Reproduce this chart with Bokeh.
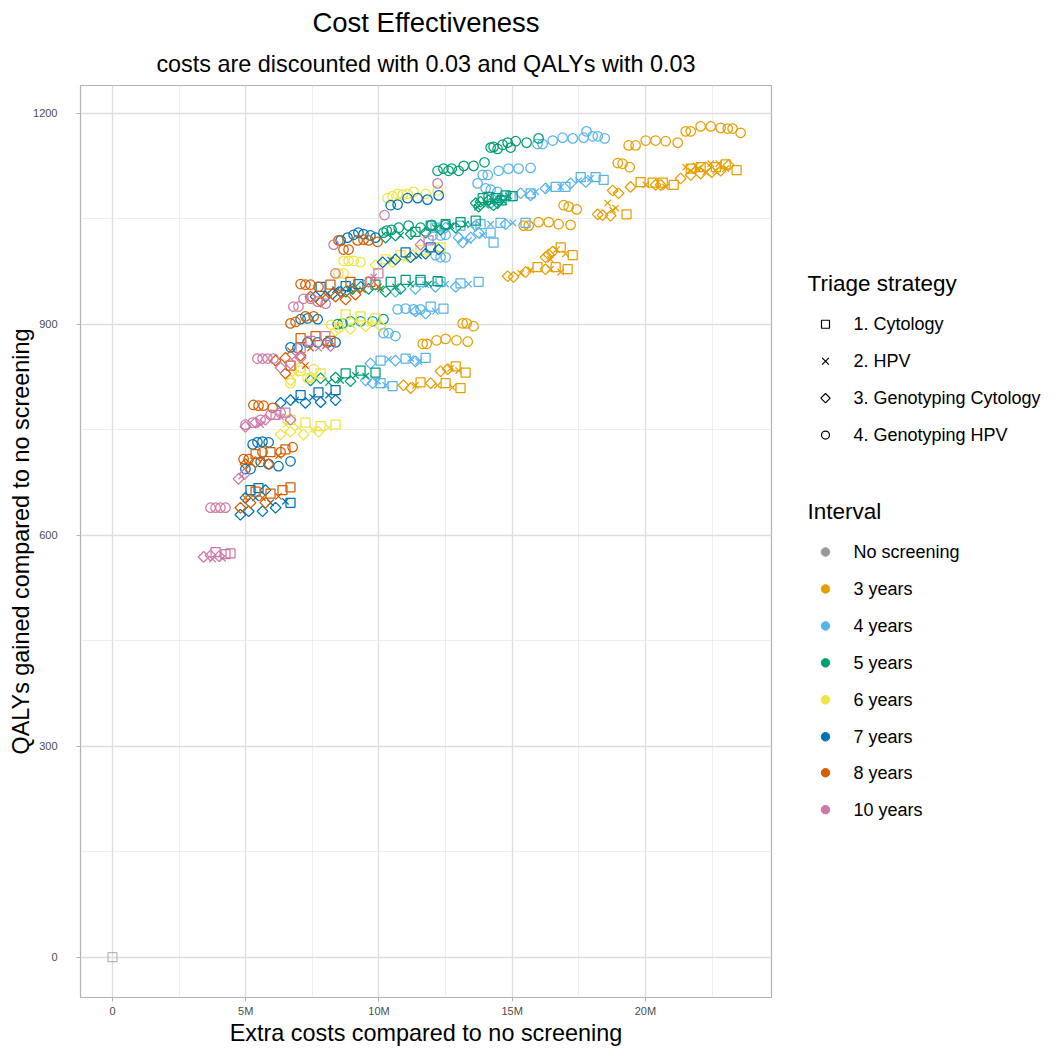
import numpy as np
import pandas as pd
from bokeh.plotting import figure
from bokeh.models import Range1d, FixedTicker, Title, ColumnDataSource
from bokeh.layouts import row
from bokeh.embed import file_html
from bokeh.resources import INLINE
from bokeh.core.properties import value

FONT = "Liberation Sans"

interval_labels = ["No screening", "3 years", "4 years", "5 years", "6 years",
                   "7 years", "8 years", "10 years"]
interval_colors = ["#999999", "#E69F00", "#56B4E9", "#009E73", "#F0E442",
                   "#0072B2", "#D55E00", "#CC79A7"]
triage_labels = ["1. Cytology", "2. HPV", "3. Genotyping Cytology", "4. Genotyping HPV"]

x_ticks = [0, 5, 10, 15, 20]
x_tick_labels = ["0", "5M", "10M", "15M", "20M"]
y_ticks = [0, 300, 600, 900, 1200]

# (extra cost in millions, QALYs gained, triage strategy 1-4)
pts_none = [(0.0, 0.0, 1)]

pts_3y = [
    (21.51, 1174, 4), (21.70, 1174, 4), (22.07, 1181, 4), (22.45, 1181, 4), (22.82, 1179, 4),
    (23.09, 1178, 4), (23.27, 1178, 4), (23.57, 1172, 4),
    (19.37, 1154, 4), (19.63, 1154, 4), (20.01, 1161, 4), (20.38, 1161, 4), (20.76, 1160, 4), (21.21, 1158, 4),
    (18.96, 1129, 4), (19.14, 1128, 4), (19.41, 1123, 4),
    (16.93, 1069, 4), (17.12, 1067, 4), (17.42, 1063, 4),
    (15.43, 1040, 4), (15.62, 1040, 4), (15.99, 1045, 4), (16.37, 1045, 4), (16.74, 1042, 4), (17.19, 1041, 4),
    (13.14, 901, 4), (13.29, 901, 4), (13.55, 897, 4),
    (11.64, 872, 4), (11.79, 872, 4), (12.16, 877, 4), (12.50, 879, 4), (12.91, 877, 4), (13.33, 875, 4),
    (19.29, 1056, 1), (19.82, 1102, 1), (20.27, 1101, 1), (20.65, 1101, 1), (21.06, 1098, 1), (22.07, 1123, 1),
    (22.64, 1123, 1), (23.42, 1119, 1), (21.70, 1121, 1), (23.01, 1127, 1),
    (16.82, 1009, 1), (17.27, 998, 1), (15.95, 981, 1), (16.63, 981, 1), (17.08, 978, 1),
    (13.25, 831, 1), (12.88, 840, 1), (11.56, 817, 1), (12.50, 816, 1), (13.06, 809, 1),
    (18.88, 1065, 2), (20.01, 1098, 2), (20.76, 1095, 2), (21.70, 1118, 2), (22.45, 1128, 2), (23.01, 1121, 2),
    (22.26, 1116, 2), (21.51, 1123, 2), (22.75, 1128, 2), (18.58, 1072, 2), (18.77, 1062, 2), (21.96, 1121, 2),
    (21.89, 1125, 2), (22.64, 1118, 2),
    (16.67, 1006, 2), (17.00, 1000, 2), (16.44, 992, 2), (15.32, 972, 2), (15.69, 977, 2), (16.44, 978, 2), (16.82, 974, 2),
    (12.69, 837, 2), (12.99, 834, 2), (11.37, 813, 2), (12.20, 813, 2), (12.76, 810, 2),
    (18.21, 1056, 3), (18.39, 1055, 3), (18.69, 1054, 3), (18.77, 1090, 3), (18.99, 1086, 3), (19.44, 1095, 3),
    (20.38, 1098, 3), (21.32, 1107, 3), (22.07, 1114, 3), (22.82, 1118, 3), (21.70, 1112, 3), (22.49, 1116, 3),
    (20.57, 1098, 3), (22.26, 1123, 3), (23.12, 1126, 3),
    (16.25, 995, 3), (16.37, 999, 3), (16.52, 1003, 3), (14.83, 968, 3), (15.05, 967, 3), (15.50, 974, 3), (16.25, 978, 3),
    (12.31, 833, 3), (12.58, 836, 3), (10.92, 813, 3), (11.19, 809, 3), (11.94, 816, 3),
]

pts_4y = [
    (15.95, 1156, 4), (16.14, 1156, 4), (16.52, 1161, 4), (16.89, 1165, 4), (17.27, 1164, 4), (17.68, 1165, 4),
    (17.79, 1174, 4), (18.02, 1167, 4), (18.21, 1167, 4), (18.47, 1164, 4),
    (13.70, 1100, 4), (13.89, 1112, 4), (14.08, 1112, 4), (14.49, 1118, 4), (14.86, 1121, 4), (15.24, 1121, 4),
    (15.69, 1122, 4), (14.00, 1093, 4), (14.19, 1091, 4), (14.45, 1088, 4),
    (12.01, 1026, 4), (12.31, 1026, 4), (12.50, 1027, 4), (12.12, 998, 4), (12.31, 995, 4), (12.50, 995, 4),
    (10.70, 921, 4), (11.00, 922, 4), (11.30, 921, 4), (11.56, 921, 4), (10.17, 887, 4), (10.36, 887, 4), (10.62, 883, 4),
    (14.94, 1082, 1), (15.69, 1086, 1), (16.63, 1095, 1), (17.57, 1109, 1), (18.13, 1109, 1), (18.43, 1105, 1),
    (17.00, 1095, 1),
    (12.12, 1037, 1), (13.06, 1040, 1), (13.81, 1042, 1), (14.56, 1044, 1), (15.50, 1044, 1), (14.19, 1030, 1), (14.30, 1016, 1),
    (11.56, 960, 1), (12.31, 960, 1), (13.06, 958, 1), (13.74, 960, 1), (11.94, 925, 1), (12.42, 922, 1),
    (10.06, 848, 1), (11.00, 851, 1), (11.75, 852, 1), (10.06, 816, 1), (10.51, 812, 1),
    (14.75, 1079, 2), (15.88, 1088, 2), (16.82, 1095, 2), (17.49, 1104, 2), (17.94, 1107, 2), (16.37, 1093, 2),
    (13.44, 1041, 2), (14.19, 1042, 2), (15.02, 1044, 2), (13.36, 1019, 2), (13.89, 1026, 2),
    (11.75, 956, 2), (12.50, 957, 2), (13.36, 957, 2), (12.12, 918, 2),
    (10.36, 850, 2), (11.19, 851, 2), (11.49, 847, 2), (10.25, 813, 2), (9.95, 819, 2),
    (14.19, 1072, 3), (14.56, 1079, 3), (15.32, 1086, 3), (16.25, 1093, 3), (17.19, 1100, 3), (17.76, 1102, 3),
    (15.69, 1083, 3),
    (12.50, 1037, 3), (13.63, 1040, 3), (14.75, 1042, 3), (13.14, 1016, 3), (13.44, 1023, 3), (13.74, 1030, 3), (12.99, 1023, 3),
    (11.37, 950, 3), (12.12, 953, 3), (12.88, 953, 3), (10.62, 946, 3), (11.37, 918, 3), (11.75, 915, 3),
    (9.68, 844, 3), (10.62, 848, 3), (11.37, 847, 3), (9.50, 820, 3), (9.76, 816, 3),
]

pts_5y = [
    (14.19, 1151, 4), (14.30, 1152, 4), (14.45, 1149, 4), (14.64, 1155, 4), (14.83, 1158, 4), (15.13, 1160, 4),
    (15.54, 1158, 4), (15.99, 1164, 4), (14.94, 1151, 4),
    (12.20, 1118, 4), (12.42, 1121, 4), (12.61, 1118, 4), (12.73, 1121, 4), (12.99, 1118, 4), (13.18, 1125, 4),
    (13.55, 1125, 4), (13.96, 1130, 4),
    (10.17, 1030, 4), (10.29, 1033, 4), (10.47, 1034, 4), (10.74, 1037, 4), (11.11, 1040, 4), (11.56, 1037, 4),
    (11.98, 1041, 4), (12.50, 1041, 4),
    (8.45, 900, 4), (8.63, 901, 4), (8.93, 904, 4), (9.31, 904, 4), (9.76, 904, 4), (10.17, 907, 4),
    (14.38, 1079, 1), (14.75, 1083, 1), (15.02, 1082, 1), (13.89, 1079, 1), (14.60, 1076, 1), (14.11, 1081, 1),
    (11.94, 1040, 1), (12.50, 1042, 1), (13.06, 1045, 1), (13.63, 1047, 1), (11.37, 1031, 1),
    (9.87, 956, 1), (10.44, 960, 1), (11.00, 963, 1), (11.56, 963, 1), (12.20, 961, 1),
    (8.75, 830, 1), (9.31, 834, 1), (9.87, 831, 1),
    (14.00, 1069, 2), (14.26, 1074, 2), (14.56, 1079, 2), (14.86, 1082, 2), (13.70, 1066, 2), (14.68, 1074, 2),
    (12.12, 1037, 2), (12.69, 1040, 2), (13.25, 1042, 2), (10.81, 1026, 2),
    (10.06, 950, 2), (10.62, 953, 2), (11.19, 957, 2), (11.86, 957, 2),
    (8.11, 817, 2), (8.56, 820, 2), (9.12, 827, 2), (9.50, 826, 2),
    (13.63, 1072, 3), (13.81, 1074, 3), (14.11, 1076, 3), (14.45, 1072, 3), (14.30, 1069, 3), (13.74, 1067, 3),
    (11.75, 1030, 3), (12.31, 1034, 3), (12.88, 1037, 3), (10.25, 1023, 3), (10.62, 1026, 3), (11.19, 1028, 3),
    (8.75, 946, 3), (9.01, 950, 3), (9.31, 953, 3), (9.61, 950, 3), (10.25, 946, 3), (10.81, 950, 3),
    (7.43, 820, 3), (7.81, 823, 3), (8.37, 824, 3), (8.93, 819, 3),
]

pts_6y = [
    (10.32, 1079, 4), (10.51, 1082, 4), (10.70, 1085, 4), (10.89, 1084, 4), (11.07, 1085, 4), (11.30, 1088, 4),
    (11.75, 1085, 4), (12.20, 1090, 4),
    (8.67, 990, 4), (8.86, 990, 4), (9.05, 990, 4), (9.31, 988, 4), (8.48, 972, 4), (8.67, 972, 4),
    (8.20, 899, 4), (8.50, 895, 4),
    (7.06, 838, 4), (7.55, 836, 4), (6.68, 816, 4), (7.32, 823, 4),
    (10.25, 992, 1), (10.81, 998, 1), (11.56, 1005, 1), (12.31, 1009, 1),
    (8.75, 914, 1), (9.31, 911, 1), (9.87, 908, 1),
    (6.68, 764, 1), (7.24, 760, 1), (7.81, 755, 1), (8.37, 757, 1),
    (7.06, 834, 1), (7.81, 830, 1),
    (11.00, 992, 2), (11.86, 1000, 2), (8.56, 900, 2), (9.12, 904, 2), (9.68, 901, 2),
    (6.50, 757, 2), (6.98, 753, 2), (7.51, 750, 2), (8.11, 753, 2), (6.87, 830, 2),
    (9.87, 984, 3), (10.51, 988, 3), (11.26, 998, 3), (8.37, 890, 3), (8.93, 893, 3), (9.50, 897, 3), (10.06, 897, 3),
    (6.31, 743, 3), (6.68, 747, 3), (7.17, 743, 3), (7.73, 747, 3), (6.68, 820, 3), (7.43, 824, 3),
]

pts_7y = [
    (10.44, 1069, 4), (10.70, 1070, 4), (11.07, 1079, 4), (11.45, 1079, 4), (11.82, 1077, 4), (12.24, 1083, 4),
    (8.56, 1019, 4), (8.82, 1023, 4), (9.05, 1027, 4), (9.23, 1030, 4), (9.42, 1028, 4), (9.68, 1026, 4), (9.87, 1023, 4),
    (7.06, 907, 4), (7.32, 908, 4), (7.70, 907, 4),
    (6.68, 867, 4), (6.94, 866, 4), (7.32, 874, 4), (7.70, 874, 4), (8.07, 874, 4), (8.37, 874, 4),
    (5.26, 729, 4), (5.44, 732, 4), (5.63, 733, 4), (5.86, 732, 4),
    (4.99, 694, 4), (5.18, 694, 4), (5.56, 704, 4), (5.86, 701, 4), (6.23, 698, 4), (6.68, 705, 4),
    (11.00, 1002, 1), (11.94, 1009, 1), (7.81, 953, 1), (8.75, 954, 1), (9.23, 957, 1),
    (7.06, 799, 1), (7.73, 803, 1), (8.37, 806, 1), (5.18, 664, 1), (5.48, 667, 1), (6.68, 646, 1),
    (10.44, 991, 2), (11.49, 997, 2), (8.37, 949, 2), (8.93, 950, 2), (6.87, 792, 2), (7.51, 796, 2),
    (8.11, 799, 2), (5.37, 653, 2), (5.93, 646, 2), (6.49, 648, 2),
    (10.14, 988, 3), (10.62, 992, 3), (11.19, 995, 3), (11.75, 1000, 3), (12.24, 1006, 3),
    (8.00, 939, 3), (8.26, 943, 3), (8.56, 946, 3), (7.62, 939, 3),
    (6.31, 788, 3), (6.68, 792, 3), (7.24, 788, 3), (7.81, 789, 3), (8.37, 792, 3),
    (4.80, 629, 3), (5.11, 634, 3), (5.63, 634, 3), (6.12, 639, 3), (5.74, 664, 3), (4.99, 653, 3),
]

pts_8y = [
    (8.48, 1019, 4), (8.67, 1006, 4), (8.86, 1006, 4), (9.20, 1019, 4), (9.42, 1020, 4), (9.61, 1019, 4), (9.95, 1017, 4),
    (7.06, 957, 4), (7.24, 956, 4), (7.43, 956, 4), (7.73, 953, 4),
    (6.68, 901, 4), (6.87, 903, 4), (7.24, 911, 4), (7.55, 911, 4),
    (5.29, 785, 4), (5.48, 784, 4), (5.67, 784, 4), (6.01, 781, 4),
    (4.92, 708, 4), (5.11, 708, 4), (5.63, 718, 4), (6.31, 718, 4), (6.76, 725, 4),
    (8.18, 956, 1), (8.93, 960, 1), (9.68, 960, 1), (7.06, 880, 1), (7.62, 883, 1), (8.18, 876, 1), (6.68, 841, 1),
    (5.37, 715, 1), (5.93, 718, 1), (6.49, 722, 1), (5.37, 662, 1), (5.93, 659, 1), (6.38, 664, 1), (6.68, 668, 1),
    (8.56, 946, 2), (9.38, 949, 2), (9.98, 953, 2), (6.68, 862, 2), (7.43, 866, 2), (7.99, 869, 2), (7.24, 841, 2),
    (8.00, 942, 2),
    (5.63, 708, 2), (6.23, 713, 2), (4.99, 653, 2), (5.63, 653, 2), (6.23, 655, 2),
    (7.81, 932, 3), (8.37, 939, 3), (9.12, 942, 3), (8.75, 935, 3), (7.43, 939, 3),
    (6.12, 848, 3), (6.49, 852, 3), (7.06, 855, 3),
    (6.49, 830, 3), (4.99, 701, 3), (5.37, 704, 3), (5.86, 701, 3), (4.80, 639, 3), (5.18, 646, 3), (5.74, 646, 3),
]

pts_10y = [
    (12.20, 1100, 4), (10.21, 1055, 4), (8.30, 1013, 4), (8.37, 972, 4),
    (6.79, 925, 4), (6.98, 925, 4), (7.17, 936, 4), (7.43, 936, 4), (7.70, 932, 4), (8.00, 929, 4),
    (5.44, 851, 4), (5.63, 851, 4), (5.82, 851, 4), (6.04, 851, 4),
    (4.99, 757, 4), (5.26, 760, 4), (5.56, 764, 4), (5.93, 771, 4), (6.31, 774, 4),
    (3.68, 639, 4), (3.87, 639, 4), (4.05, 639, 4), (4.24, 639, 4),
    (3.87, 576, 1), (4.24, 573, 1), (4.43, 574, 1), (6.12, 771, 1), (6.49, 774, 1), (7.43, 876, 1),
    (7.99, 883, 1), (7.06, 866, 1), (9.98, 972, 1), (11.86, 1019, 1),
    (3.75, 566, 2), (4.13, 567, 2), (4.85, 684, 2), (5.56, 757, 2), (6.31, 768, 2), (6.87, 855, 2),
    (7.73, 866, 2), (9.80, 967, 2),
    (3.42, 569, 3), (3.68, 571, 3), (4.00, 570, 3), (4.73, 680, 3), (4.96, 687, 3), (4.99, 754, 3),
    (5.37, 760, 3), (5.74, 764, 3), (6.68, 764, 3), (6.31, 838, 3), (6.68, 844, 3), (7.06, 852, 3),
    (8.18, 869, 3), (9.61, 960, 3), (11.56, 1013, 3),
]

all_points = [pts_none, pts_3y, pts_4y, pts_5y, pts_6y, pts_7y, pts_8y, pts_10y]

frames = []
for lab, pts in zip(interval_labels, all_points):
    d = pd.DataFrame(pts, columns=["cost", "qaly", "triage"])
    d["interval"] = lab
    frames.append(d)
df = pd.concat(frames, ignore_index=True)

# marker styles per triage strategy: (marker, size, angle)
marker_style = {1: ("square", 9, 0.0), 2: ("x", 9, 0.0), 3: ("square", 7.6, np.pi / 4), 4: ("circle", 9.5, 0.0)}

TOTAL_W, TOTAL_H = 1042, 1048
MAIN_W = 783
BORDER_TOP, BORDER_BOTTOM = 85, 50

p = figure(width=MAIN_W, height=TOTAL_H,
           x_range=Range1d(-1.20, 24.73), y_range=Range1d(-57.3, 1239.2),
           output_backend="svg", toolbar_location=None, title=None,
           min_border_left=80, min_border_right=12,
           min_border_top=BORDER_TOP, min_border_bottom=BORDER_BOTTOM)

p.add_layout(Title(text="costs are discounted with 0.03 and QALYs with 0.03", align="center",
                   text_font=FONT, text_font_size="23.4px", text_font_style="normal",
                   text_color="black", standoff=18), "above")
p.add_layout(Title(text="Cost Effectiveness", align="center",
                   text_font=FONT, text_font_size="27.5px", text_font_style="normal",
                   text_color="black", standoff=4), "above")

for lab, col in zip(interval_labels, interval_colors):
    sub_i = df[df["interval"] == lab]
    alpha = 0.7 if lab == "No screening" else 1.0
    for t in [1, 2, 3, 4]:
        sub = sub_i[sub_i["triage"] == t]
        if len(sub) == 0:
            continue
        mk, sz, ang = marker_style[t]
        p.scatter(x="cost", y="qaly", source=ColumnDataSource(sub), marker=mk, size=sz, angle=ang,
                  fill_color=None, line_color=col, line_width=1.25, line_alpha=alpha)

# axes & grid
p.xaxis.ticker = FixedTicker(ticks=x_ticks, minor_ticks=[2.5, 7.5, 12.5, 17.5, 22.5])
p.xaxis.major_label_overrides = {float(t): l for t, l in zip(x_ticks, x_tick_labels)}
p.yaxis.ticker = FixedTicker(ticks=y_ticks, minor_ticks=[150, 450, 750, 1050])
p.xaxis.axis_label = "Extra costs compared to no screening"
p.yaxis.axis_label = "QALYs gained compared to no screening"
for ax in [p.xaxis[0], p.yaxis[0]]:
    ax.axis_line_color = None
    ax.major_tick_line_color = "#B3B3B3"
    ax.major_tick_out = 4
    ax.major_tick_in = 0
    ax.minor_tick_line_color = None
    ax.major_label_text_font = FONT
    ax.major_label_text_font_size = "11px"
    ax.major_label_text_color = "#4D4D4D"
    ax.axis_label_text_font = FONT
    ax.axis_label_text_font_size = "23.4px"
    ax.axis_label_text_font_style = "normal"
    ax.axis_label_text_color = "black"
p.xaxis.major_label_standoff = 3
p.xaxis.axis_label_standoff = 0
p.yaxis.major_label_standoff = 19
p.yaxis.axis_label_standoff = -4

p.grid.grid_line_color = "#DEDEDE"
p.grid.grid_line_width = 1.3
p.grid.minor_grid_line_color = "#E6E6E6"
p.grid.minor_grid_line_width = 0.7
p.outline_line_color = "#B3B3B3"
p.outline_line_width = 1.2
p.background_fill_color = "white"
p.border_fill_color = "white"

# legend panel: its frame is aligned with the main frame, so y data = page pixel row
LW = TOTAL_W - MAIN_W
frame_bottom = TOTAL_H - BORDER_BOTTOM
lg = figure(width=LW, height=TOTAL_H, x_range=Range1d(MAIN_W, TOTAL_W),
            y_range=Range1d(frame_bottom, BORDER_TOP),
            output_backend="svg", toolbar_location=None,
            min_border_left=0, min_border_right=0,
            min_border_top=BORDER_TOP, min_border_bottom=BORDER_BOTTOM,
            x_axis_type=None, y_axis_type=None)
lg.grid.visible = False
lg.outline_line_color = None
lg.border_fill_color = "white"
lg.background_fill_color = "white"

title_x = 807
mark_x = 825
lab_x = 853
lg.text(x=[title_x, title_x], y=[283, 511], text=["Triage strategy", "Interval"],
        text_font=value(FONT), text_font_size="22.5px", text_baseline="middle", text_align="left",
        text_color="black")

tri_y = [324, 361, 398, 435]
leg_sizes = {1: 8, 2: 9.5, 3: 6.6, 4: 8}
for t, ty in zip([1, 2, 3, 4], tri_y):
    mk, sz, ang = marker_style[t]
    lg.scatter(x=[mark_x], y=[ty], marker=mk, size=leg_sizes[t], angle=ang,
               fill_color=None, line_color="black", line_width=1.2)
lg.text(x=[lab_x] * 4, y=tri_y, text=triage_labels, text_font=value(FONT), text_font_size="18px",
        text_baseline="middle", text_align="left", text_color="black")

int_y = [552, 589, 626, 663, 700, 737, 773, 810]
lg.scatter(x=[mark_x] * len(int_y), y=int_y, marker="circle", size=8.5,
           fill_color=interval_colors, line_color=interval_colors)
lg.text(x=[lab_x] * len(int_y), y=int_y, text=interval_labels, text_font=value(FONT),
        text_font_size="18px", text_baseline="middle", text_align="left", text_color="black")

layout = row(p, lg)
open("out.html", "w").write(file_html(layout, INLINE))
